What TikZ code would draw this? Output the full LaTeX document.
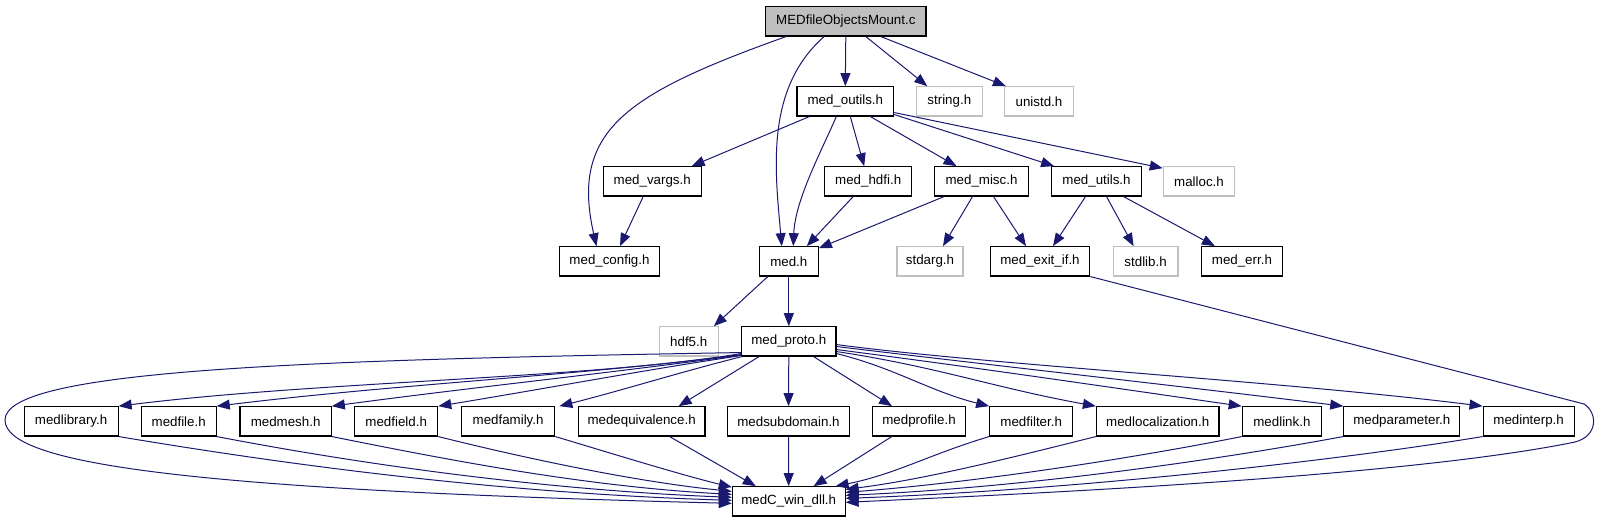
\documentclass[tikz,border=0pt]{standalone}
\usepackage{fontspec}
\setmainfont{Liberation Sans}
\usetikzlibrary{arrows.meta,calc}
\definecolor{edgeblue}{HTML}{191970}
\definecolor{extgray}{HTML}{BFBFBF}
\definecolor{mainfill}{HTML}{BFBFBF}
\tikzset{
  box/.style={draw=black, line width=1.1pt, fill=white, minimum height=29.3pt, inner sep=0pt,
              font=\fontsize{13.33}{16}\selectfont},
  ext/.style={box, draw=extgray},
  mainbox/.style={box, fill=mainfill},
  conn/.style={draw=edgeblue, line width=1pt, -{Triangle[length=13pt,width=10pt]}},
}
\begin{document}
\begin{tikzpicture}[x=1pt,y=-1pt]
\path[use as bounding box] (0,0) rectangle (1598,523);
% rank 0
\node[mainbox, minimum width=160.3pt] (main) at (845.8,21.35) {MEDfileObjectsMount.c};
% rank 1
\node[box, minimum width=96.7pt] (outils) at (845.3,101.35) {med\_outils.h};
\node[ext, minimum width=65.7pt] (string) at (949.3,101.35) {string.h};
\node[ext, minimum width=69pt] (unistd) at (1039,101.35) {unistd.h};
% rank 2
\node[box, minimum width=97.7pt] (vargs) at (652.2,181.35) {med\_vargs.h};
\node[box, minimum width=86.7pt] (hdfi) at (868.2,181.35) {med\_hdfi.h};
\node[box, minimum width=93.7pt] (misc) at (981.5,181.35) {med\_misc.h};
\node[box, minimum width=89.6pt] (utils) at (1096.5,181.35) {med\_utils.h};
\node[ext, minimum width=71.4pt] (malloc) at (1199,181.35) {malloc.h};
% rank 3
\node[box, minimum width=100.5pt] (config) at (609.5,261.35) {med\_config.h};
\node[box, minimum width=59pt] (med) at (788.8,261.35) {med.h};
\node[ext, minimum width=66pt] (stdarg) at (930,261.35) {stdarg.h};
\node[box, minimum width=99.5pt] (exitif) at (1040,261.35) {med\_exit\_if.h};
\node[ext, minimum width=64.8pt] (stdlib) at (1145.6,261.35) {stdlib.h};
\node[box, minimum width=80.3pt] (err) at (1241.9,261.35) {med\_err.h};
% rank 4
\node[ext, minimum width=59.3pt] (hdf5) at (688.7,341.35) {hdf5.h};
\node[box, minimum width=94.3pt] (proto) at (788.8,341.35) {med\_proto.h};
% rank 5
\node[box, minimum width=94pt] (library) at (71.1,421.35) {medlibrary.h};
\node[box, minimum width=75pt] (file) at (178.7,421.35) {medfile.h};
\node[box, minimum width=91.3pt] (mesh) at (285.6,421.35) {medmesh.h};
\node[box, minimum width=83pt] (field) at (396.2,421.35) {medfield.h};
\node[box, minimum width=93.4pt] (family) at (508.1,421.35) {medfamily.h};
\node[box, minimum width=126.7pt] (equiv) at (641.6,421.35) {medequivalence.h};
\node[box, minimum width=121.6pt] (subdom) at (788.5,421.35) {medsubdomain.h};
\node[box, minimum width=93.3pt] (profile) at (919,421.35) {medprofile.h};
\node[box, minimum width=83pt] (filter) at (1031.2,421.35) {medfilter.h};
\node[box, minimum width=122.5pt] (local) at (1157.7,421.35) {medlocalization.h};
\node[box, minimum width=79.3pt] (link) at (1281.9,421.35) {medlink.h};
\node[box, minimum width=116pt] (param) at (1401.8,421.35) {medparameter.h};
\node[box, minimum width=91pt] (interp) at (1528.6,421.35) {medinterp.h};
% rank 6
\node[box, minimum width=112.7pt] (dll) at (788.7,501.35) {medC\_win\_dll.h};

% edges from main
\draw[conn] ($(main.south west)+(21,0)$) .. controls (627,93.5) and (570,130) .. ($(config.north)+(-13,0)$);
\draw[conn] ($(main.south west)+(59,0)$) .. controls (765,88.7) and (775,170) .. ($(med.north)+(-7,0)$);
\draw[conn] (main.south) -- (outils.north);
\draw[conn] ($(main.south)+(20,0)$) -- ($(string.north)+(-22,0)$);
\draw[conn] ($(main.south)+(35,0)$) -- ($(unistd.north west)+(2,0)$);
% edges from outils
\draw[conn] ($(outils.south west)+(13,0)$) -- ($(vargs.north east)+(-10,0)$);
\draw[conn] ($(outils.south)+(-9,0)$) .. controls (822,150) and (795,200) .. ($(med.north)+(4.5,0)$);
\draw[conn] ($(outils.south)+(5,0)$) -- ($(hdfi.north)+(-4,0)$);
\draw[conn] ($(outils.south)+(25,0)$) -- ($(misc.north)+(-25,0)$);
\draw[conn] ($(outils.south east)+(0,-2)$) -- ($(utils.north west)+(3,0)$);
\draw[conn] ($(outils.south east)+(0,-4)$) -- ($(malloc.north west)+(0,2)$);
% rank 2 edges
\draw[conn] ($(vargs.south)+(-9,0)$) -- ($(config.north)+(10.5,0)$);
\draw[conn] ($(hdfi.south)+(-15,0)$) -- ($(med.north)+(18,0)$);
\draw[conn] ($(misc.south west)+(10,0)$) -- ($(med.north east)+(0,2)$);
\draw[conn] ($(misc.south)+(-9,0)$) -- ($(stdarg.north)+(13,0)$);
\draw[conn] ($(misc.south)+(12,0)$) -- ($(exitif.north)+(-14,0)$);
\draw[conn] ($(utils.south)+(-11,0)$) -- ($(exitif.north)+(13,0)$);
\draw[conn] ($(utils.south)+(10,0)$) -- ($(stdlib.north)+(-12,0)$);
\draw[conn] ($(utils.south)+(27,0)$) -- ($(err.north)+(-27,0)$);
% med
\draw[conn] ($(med.south)+(-21,0)$) -- ($(hdf5.north east)+(-5,0)$);
\draw[conn] (med.south) -- (proto.north);
% exit_if -> dll (right loop)
\draw[conn] (exitif.south east) -- (1584,404) .. controls (1598,413) and (1598,436) .. (1575,442)
  .. controls (1400,478) and (1000,495) .. ($(dll.east)+(0,1)$);
% proto -> dll (left loop)
\draw[conn] ($(proto.south west)+(0,-4)$) .. controls (300,360) and (5,370) .. (5,420)
  .. controls (5,465) and (200,490) .. ($(dll.west)+(0,2)$);
% proto -> row (left)
\draw[conn] ($(proto.south west)+(0,-3)$) .. controls +(-150,25) and +(200,-25) .. (library.north east);
\draw[conn] ($(proto.south west)+(0,-2)$) .. controls +(-150,20) and +(180,-22) .. (file.north east);
\draw[conn] ($(proto.south west)+(0,-1.5)$) .. controls +(-130,18) and +(150,-20) .. (mesh.north east);
\draw[conn] ($(proto.south west)+(0,-1)$) .. controls +(-100,15) and +(110,-18) .. (field.north east);
\draw[conn] ($(proto.south west)+(1,0)$) .. controls +(-60,15) and +(60,-15) .. ($(family.north east)+(4,0)$);
\draw[conn] ($(proto.south west)+(18,0)$) -- ($(equiv.north)+(37,0)$);
\draw[conn] (proto.south) -- (subdom.north);
% proto -> row (right)
\draw[conn] ($(proto.south east)+(-23,0)$) -- ($(profile.north)+(-27,0)$);
\draw[conn] ($(proto.south east)+(0,-3)$) .. controls +(60,15) and +(-60,-15) .. (filter.north west);
\draw[conn] ($(proto.south east)+(0,-5)$) .. controls +(100,15) and +(-100,-18) .. (local.north west);
\draw[conn] ($(proto.south east)+(0,-7)$) .. controls +(140,18) and +(-140,-20) .. (link.north west);
\draw[conn] ($(proto.south east)+(0,-10)$) .. controls +(150,18) and +(-180,-22) .. (param.north west);
\draw[conn] ($(proto.south east)+(0,-12)$) .. controls +(150,20) and +(-200,-25) .. (interp.north west);
% row -> dll (left)
\draw[conn] (library.south east) .. controls +(150,25) and +(-250,-8) .. ($(dll.west)+(0,-1)$);
\draw[conn] (file.south east) .. controls +(130,25) and +(-200,-8) .. ($(dll.west)+(0,-4)$);
\draw[conn] (mesh.south east) .. controls +(110,22) and +(-150,-8) .. ($(dll.west)+(0,-7)$);
\draw[conn] (field.south east) .. controls +(80,20) and +(-100,-10) .. ($(dll.west)+(0,-10)$);
\draw[conn] (family.south east) .. controls +(50,15) and +(-50,-12) .. ($(dll.north west)+(0,1)$);
\draw[conn] ($(equiv.south)+(28,0)$) -- ($(dll.north west)+(24,0)$);
\draw[conn] (subdom.south) -- (dll.north);
% row -> dll (right)
\draw[conn] ($(profile.south west)+(20,0)$) -- ($(dll.north east)+(-32,0)$);
\draw[conn] (filter.south west) .. controls +(-60,18) and +(60,-12) .. ($(dll.north east)+(-10,0)$);
\draw[conn] (local.south west) .. controls +(-80,20) and +(80,-10) .. ($(dll.east)+(0,-12)$);
\draw[conn] (link.south west) .. controls +(-110,22) and +(130,-10) .. ($(dll.east)+(0,-9)$);
\draw[conn] (param.south west) .. controls +(-130,24) and +(180,-8) .. ($(dll.east)+(0,-6)$);
\draw[conn] (interp.south west) .. controls +(-150,25) and +(220,-8) .. ($(dll.east)+(0,-3)$);
\end{tikzpicture}
\end{document}
